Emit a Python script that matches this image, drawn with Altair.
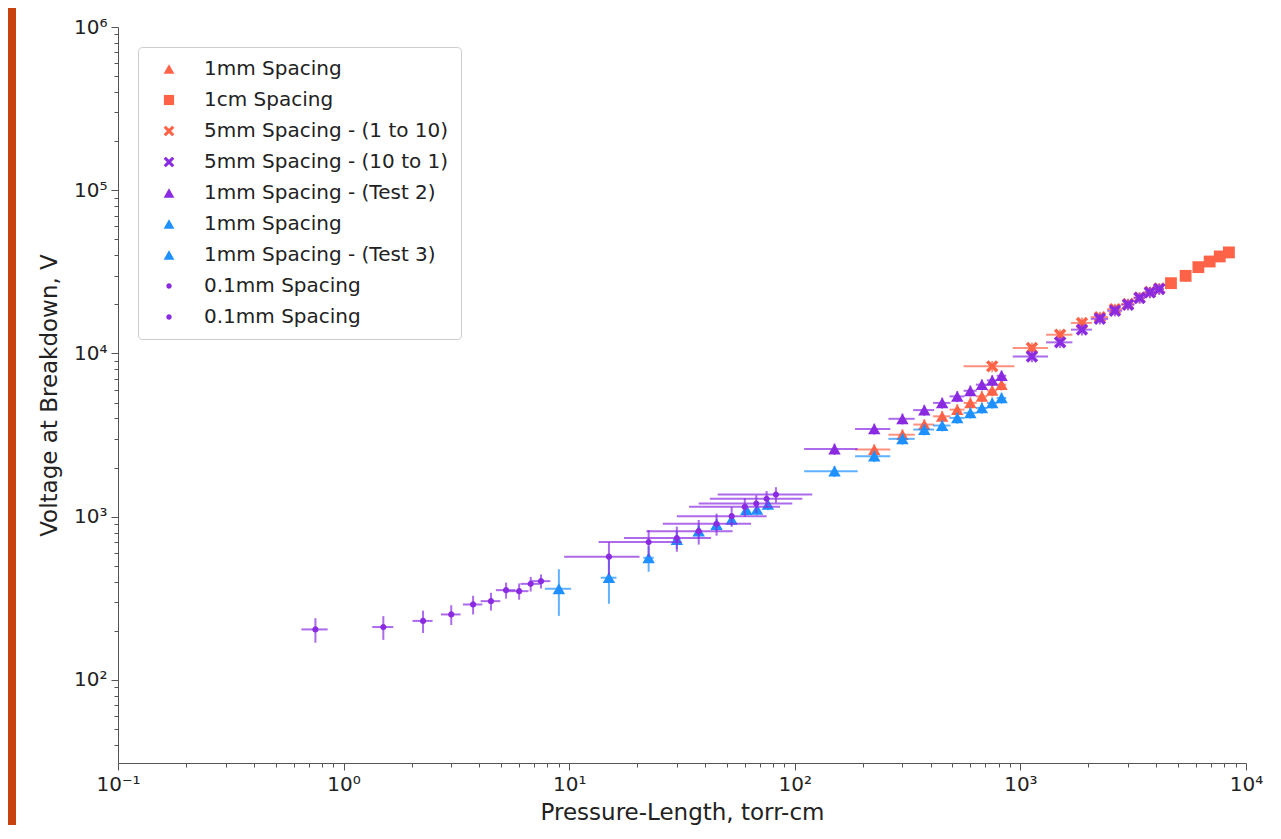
import altair as alt
import pandas as pd

# ---------------- data ----------------
series_keys = [
    "1mm Spacing",
    "1cm Spacing",
    "5mm Spacing - (1 to 10)",
    "5mm Spacing - (10 to 1)",
    "1mm Spacing - (Test 2)",
    "1mm Spacing ",
    "1mm Spacing - (Test 3)",
    "0.1mm Spacing",
    "0.1mm Spacing ",
]
series_colors = ["#FF6347", "#FF6347", "#FF6347", "#8A2BE2", "#8A2BE2",
                 "#1E90FF", "#1E90FF", "#8A2BE2", "#8A2BE2"]
X_PATH = ("M -1 -0.6 L -0.6 -1 L 0 -0.4 L 0.6 -1 L 1 -0.6 L 0.4 0 "
          "L 1 0.6 L 0.6 1 L 0 0.4 L -0.6 1 L -1 0.6 L -0.4 0 Z")
DOT_PATH = "M 0.5 0 A 0.5 0.5 0 1 1 -0.5 0 A 0.5 0.5 0 1 1 0.5 0 Z"
SQ_PATH = "M -0.95 -0.95 L 0.95 -0.95 L 0.95 0.95 L -0.95 0.95 Z"
series_shapes = ["triangle-up", SQ_PATH, X_PATH, X_PATH, "triangle-up",
                 "triangle-up", "triangle-up", DOT_PATH, DOT_PATH]

# 1mm Spacing (orange triangles)
s1_x = [225, 300, 375, 450, 525, 600, 675, 750, 825]
s1_y = [2580, 3180, 3670, 4120, 4530, 4980, 5460, 5940, 6440]
s1_xerr = [40, 40, 40, 40, 40, 40, 40, 40, 40]
s1_yerr = [200, 250, 290, 330, 360, 400, 440, 480, 520]

# 1cm Spacing (orange squares)
s2_x = [4650, 5400, 6150, 6900, 7650, 8400]
s2_y = [26960, 29900, 33800, 36600, 39300, 41600]
s2_xerr = [200, 200, 200, 200, 200, 200]
s2_yerr = [2000, 2300, 2600, 2800, 3000, 3200]

# 5mm Spacing - (1 to 10) (orange X)
s3_x = [750, 1125, 1500, 1875, 2250, 2625, 3000, 3375, 3750, 4125]
s3_y = [8340, 10800, 13030, 15390, 16700, 18700, 20100, 22000, 23800, 25000]
s3_xerr = [190, 200, 200, 200, 200, 200, 200, 200, 200, 200]
s3_yerr = [650, 850, 1000, 1200, 1300, 1450, 1550, 1700, 1850, 1950]

# 5mm Spacing - (10 to 1) (purple X)
s4_x = [1125, 1500, 1875, 2250, 2625, 3000, 3375, 3750, 4125]
s4_y = [9590, 11700, 14000, 16300, 18270, 19900, 21900, 23670, 24810]
s4_xerr = [200, 200, 200, 200, 200, 200, 200, 200, 200]
s4_yerr = [750, 900, 1100, 1250, 1400, 1550, 1700, 1850, 1950]

# 1mm Spacing - (Test 2) (purple triangles)
s5_x = [150, 225, 300, 375, 450, 525, 600, 675, 750, 825]
s5_y = [2600, 3450, 3980, 4500, 4980, 5460, 5910, 6440, 6840, 7310]
s5_xerr = [40, 40, 40, 40, 40, 40, 40, 40, 40, 40]
s5_yerr = [210, 270, 310, 350, 390, 430, 460, 500, 530, 570]

# 1mm Spacing (blue triangles)
s6_x = [9, 15, 22.5, 30, 37.5, 45, 52.5, 61, 68, 76]
s6_y = [362, 423, 560, 724, 815, 896, 962, 1107, 1110, 1190]
s6_xerr = [1.2, 1.2, 1.2, 1.2, 1.2, 1.2, 1.2, 1.2, 1.2, 1.2]
s6_yerr = [115, 130, 100, 90, 80, 80, 80, 90, 90, 95]

# 1mm Spacing - (Test 3) (blue triangles)
s7_x = [150, 225, 300, 375, 450, 525, 600, 675, 750, 825]
s7_y = [1900, 2350, 3000, 3420, 3620, 4030, 4330, 4640, 4980, 5340]
s7_xerr = [40, 40, 40, 40, 40, 40, 40, 40, 40, 40]
s7_yerr = [150, 190, 240, 270, 290, 320, 340, 370, 390, 420]

# 0.1mm Spacing (purple dots, low)
s8_x = [0.75, 1.5, 2.25, 3.0, 3.75, 4.5, 5.25, 6.0, 6.75, 7.5]
s8_y = [204, 211, 230, 252, 290, 304, 355, 350, 388, 403]
s8_xerr = [0.1, 0.16, 0.23, 0.3, 0.37, 0.45, 0.52, 0.6, 0.67, 0.75]
s8_yerr = [35, 35, 36, 35, 38, 38, 40, 40, 40, 40]

# 0.1mm Spacing (purple dots, high)
s9_x = [15, 22.5, 30, 37.5, 45, 52.5, 60, 67.5, 75, 82.5]
s9_y = [569, 699, 740, 815, 905, 1007, 1150, 1205, 1288, 1367]
s9_xerr = [5.5, 9, 12.5, 15.5, 19, 22.5, 26, 30, 33, 37]
s9_yerr = [130, 130, 130, 140, 140, 140, 150, 150, 150, 150]

all_series = [
    (s1_x, s1_y, s1_xerr, s1_yerr),
    (s2_x, s2_y, s2_xerr, s2_yerr),
    (s3_x, s3_y, s3_xerr, s3_yerr),
    (s4_x, s4_y, s4_xerr, s4_yerr),
    (s5_x, s5_y, s5_xerr, s5_yerr),
    (s6_x, s6_y, s6_xerr, s6_yerr),
    (s7_x, s7_y, s7_xerr, s7_yerr),
    (s8_x, s8_y, s8_xerr, s8_yerr),
    (s9_x, s9_y, s9_xerr, s9_yerr),
]

x_major = [0.1, 1, 10, 100, 1000, 10000]
y_major = [100, 1000, 10000, 100000, 1000000]
x_minor = [m * d for d in [0.1, 1, 10, 100, 1000] for m in range(2, 10)]
y_minor = [40, 50, 60, 70, 80, 90] + [m * d for d in [100, 1000, 10000, 100000] for m in range(2, 10)]

x_title = "Pressure-Length, torr-cm"
y_title = "Voltage at Breakdown, V"

# ---------------- chart ----------------
FONT = "DejaVu Sans"
W, H = 1128, 736
PAD = {"left": 110, "top": 19, "right": 27, "bottom": 62}
MSIZE = 155

is_major = "abs(log(datum.value)/LN10 - round(log(datum.value)/LN10)) < 0.001"
sup = ("(round(log(datum.value)/LN10) == -1 ? '\u207b\u00b9' : "
       "round(log(datum.value)/LN10) == 0 ? '\u2070' : "
       "round(log(datum.value)/LN10) == 1 ? '\u00b9' : "
       "round(log(datum.value)/LN10) == 2 ? '\u00b2' : "
       "round(log(datum.value)/LN10) == 3 ? '\u00b3' : "
       "round(log(datum.value)/LN10) == 4 ? '\u2074' : "
       "round(log(datum.value)/LN10) == 5 ? '\u2075' : '\u2076')")
label_expr = f"{is_major} ? '10' + {sup} : ''"
tick_size = {"condition": {"test": is_major, "value": 7}, "value": 4}

common_axis = dict(
    labelExpr=label_expr, tickSize=tick_size, labelFont=FONT, labelFontSize=20,
    labelColor="#222222", titleFont=FONT, titleFontSize=23, titleColor="#222222",
    titleFontWeight="normal", domainColor="#555555", tickColor="#555555",
    tickWidth=1, grid=False, zindex=2, labelPadding=4, labelFlush=False,
    labelOverlap=False,
)
x_axis = alt.Axis(values=x_major + x_minor, title=x_title, titlePadding=7, **common_axis)
y_axis = alt.Axis(values=y_major + y_minor, title=y_title, titlePadding=12, **common_axis)

x_scale = alt.Scale(type="log", domain=[0.1, 10000], nice=False)
y_scale = alt.Scale(type="log", domain=[31, 1000000], nice=False)

color_scale = alt.Scale(domain=series_keys, range=series_colors)
shape_scale = alt.Scale(domain=series_keys, range=series_shapes)

legend = alt.Legend(
    title=None, orient="none", legendX=20, legendY=20, labelFont=FONT,
    labelFontSize=20, labelColor="#222222", padding=12, rowPadding=11,
    symbolOffset=9, labelOffset=25, strokeColor="#cccccc", fillColor="white",
    cornerRadius=4, symbolStrokeWidth=0, symbolOpacity=1, zindex=3,
    labelLimit=400, symbolSize=MSIZE - 40,
)

bg = alt.Chart(pd.DataFrame({"a": [0]})).mark_rect(color="white").encode(
    x=alt.value(-102), x2=alt.value(W + PAD["right"]),
    y=alt.value(-PAD["top"]), y2=alt.value(H + PAD["bottom"]),
)

layers = [bg]
for key, col, (xs, ys, xe, ye) in zip(series_keys, series_colors, all_series):
    df = pd.DataFrame({
        "x": xs, "y": ys,
        "xlo": [a - b for a, b in zip(xs, xe)], "xhi": [a + b for a, b in zip(xs, xe)],
        "ylo": [a - b for a, b in zip(ys, ye)], "yhi": [a + b for a, b in zip(ys, ye)],
        "series": key,
    })
    base = alt.Chart(df)
    hbar = base.mark_rule(color=col, strokeWidth=2, opacity=0.7).encode(
        x=alt.X("xlo:Q", scale=x_scale, axis=x_axis), x2="xhi:Q",
        y=alt.Y("y:Q", scale=y_scale, axis=y_axis),
    )
    vbar = base.mark_rule(color=col, strokeWidth=2, opacity=0.7).encode(
        x=alt.X("x:Q", scale=x_scale, axis=x_axis),
        y=alt.Y("ylo:Q", scale=y_scale, axis=y_axis), y2="yhi:Q",
    )
    pts = base.mark_point(filled=True, opacity=1, strokeWidth=0, size=MSIZE).encode(
        x=alt.X("x:Q", scale=x_scale, axis=x_axis),
        y=alt.Y("y:Q", scale=y_scale, axis=y_axis),
        color=alt.Color("series:N", scale=color_scale, legend=legend),
        shape=alt.Shape("series:N", scale=shape_scale, legend=legend),
    )
    layers += [hbar, vbar, pts]

chart = alt.layer(*layers).properties(
    width=W, height=H, autosize=alt.AutoSizeParams(type="none"), padding=PAD,
    background="#C8420F",
).configure_view(stroke="#555555", strokeWidth=1.2, fill=None)

chart.save("out.html", embed_options={"renderer": "svg", "actions": False})
